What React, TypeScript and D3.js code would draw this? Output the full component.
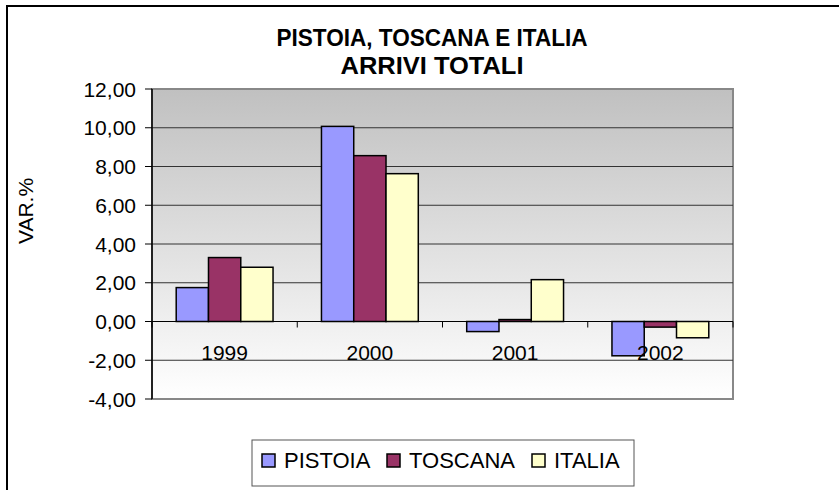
import React from "react";
import * as d3 from "d3";

// chart data
const years = ["1999", "2000", "2001", "2002"];
const seriesNames = ["PISTOIA", "TOSCANA", "ITALIA"];
const pistoia = [1.75, 10.07, -0.52, -1.77];
const toscana = [3.3, 8.56, 0.1, -0.29];
const italia = [2.8, 7.63, 2.16, -0.84];
const yTicks = [-4, -2, 0, 2, 4, 6, 8, 10, 12];
const colors = ["#9999FF", "#993366", "#FFFFCC"];

const W = 839;
const H = 490;
const plot = { left: 152, right: 733, top: 89, bottom: 399 };
const font = "Arial, 'Liberation Sans', sans-serif";

export default function App() {
  const series = [pistoia, toscana, italia];

  const x = d3.scaleBand().domain(years).range([plot.left, plot.right]).padding(0);
  const y = d3.scaleLinear().domain([-4, 12]).range([plot.bottom, plot.top]);
  // excel style: gap width 150% between groups
  const barW = x.bandwidth() / (seriesNames.length + 1.5);
  const groupOffset = barW * 0.75;
  const fmt = (v: number) => v.toFixed(2).replace(".", ",");

  const legendX = [262, 387, 532];

  return (
    <svg width={W} height={H} style={{ position: "absolute", left: 0, top: 0, background: "#fff" }}>
      <defs>
        <linearGradient id="bg" x1="0" y1="0" x2="0" y2="1">
          <stop offset="0%" stopColor="#c0c0c0" />
          <stop offset="100%" stopColor="#ffffff" />
        </linearGradient>
      </defs>
      {/* outer frame */}
      <rect x={7} y={6} width={W + 20} height={H + 20} fill="#fff" stroke="#000" strokeWidth={2} />

      {/* title */}
      <text x={432} y={46} textAnchor="middle" fontFamily={font} fontWeight="bold" fontSize={24}
        textLength={311} lengthAdjust="spacingAndGlyphs">PISTOIA, TOSCANA E ITALIA</text>
      <text x={432} y={74} textAnchor="middle" fontFamily={font} fontWeight="bold" fontSize={24}
        textLength={183} lengthAdjust="spacingAndGlyphs">ARRIVI TOTALI</text>

      {/* plot area */}
      <rect x={plot.left} y={plot.top} width={plot.right - plot.left} height={plot.bottom - plot.top}
        fill="url(#bg)" stroke="#888" strokeWidth={2} />

      {/* gridlines */}
      {yTicks.filter(t => t !== -4 && t !== 12).map(t => (
        <line key={t} x1={plot.left} x2={plot.right} y1={y(t)} y2={y(t)} stroke="#333" strokeWidth={1} />
      ))}

      {/* bars */}
      {years.map((yr, i) => (
        <g key={yr}>
          {series.map((s, j) => {
            const v = s[i];
            const x0 = (x(yr) as number) + groupOffset + j * barW;
            return (
              <rect key={j} x={x0} y={Math.min(y(v), y(0))} width={barW}
                height={Math.abs(y(v) - y(0))} fill={colors[j]} stroke="#000" strokeWidth={1.5} />
            );
          })}
        </g>
      ))}

      {/* category ticks on the zero line */}
      {years.map(yr => (
        <line key={yr} x1={x(yr) as number} x2={x(yr) as number}
          y1={y(0)} y2={y(0) + 6} stroke="#000" strokeWidth={1} />
      ))}
      <line x1={plot.right} x2={plot.right} y1={y(0)} y2={y(0) + 6} stroke="#000" />
      <line x1={plot.left} x2={plot.right} y1={y(0)} y2={y(0)} stroke="#000" strokeWidth={1} />

      {/* category labels */}
      {years.map(yr => (
        <text key={yr} x={(x(yr) as number) + x.bandwidth() / 2} y={360} textAnchor="middle"
          fontFamily={font} fontSize={21}>{yr}</text>
      ))}

      {/* y axis */}
      <line x1={plot.left} x2={plot.left} y1={plot.top} y2={plot.bottom} stroke="#000" strokeWidth={1.5} />
      {yTicks.map(t => (
        <g key={t}>
          <line x1={plot.left - 7} x2={plot.left} y1={y(t)} y2={y(t)} stroke="#000" />
          <text x={136} y={y(t)} dy="0.36em" textAnchor="end" fontFamily={font} fontSize={21}>{fmt(t)}</text>
        </g>
      ))}
      <text transform={`translate(33,${211}) rotate(-90)`} textAnchor="middle" fontFamily={font} fontSize={21}>VAR.%</text>

      {/* legend */}
      <rect x={252} y={440} width={382} height={46} fill="#fff" stroke="#555" strokeWidth={1} />
      {seriesNames.map((n, j) => (
        <g key={n}>
          <rect x={legendX[j]} y={454} width={13} height={13} fill={colors[j]} stroke="#000" strokeWidth={1.5} />
          <text x={legendX[j] + 22} y={468} fontFamily={font} fontSize={22}>{n}</text>
        </g>
      ))}
    </svg>
  );
}
